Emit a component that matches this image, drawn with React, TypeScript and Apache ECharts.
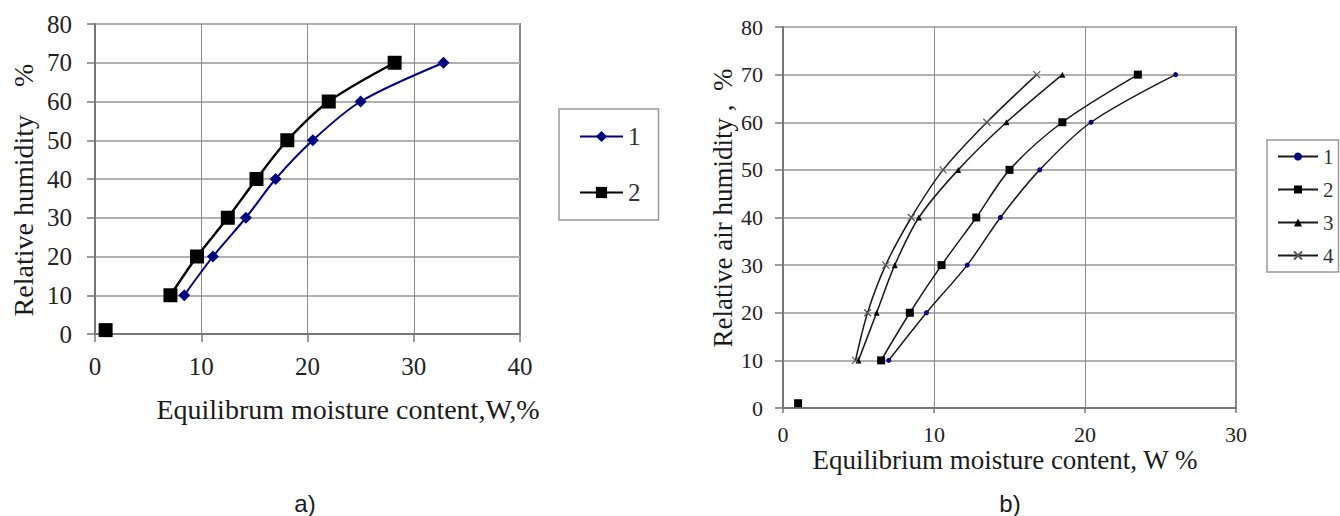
import React, { useEffect, useRef } from "react";
import * as echarts from "echarts";

// ---------- data ----------
const humidityLevels = [10, 20, 30, 40, 50, 60, 70];

// chart a)
const aSeries1X = [8.4, 11.1, 14.2, 17.0, 20.5, 25.0, 32.8];
const aSeries2X = [7.1, 9.6, 12.5, 15.2, 18.1, 22.0, 28.2];
const aIsolatedPoint = [[1, 1]];
const aXTicks = { min: 0, max: 40, interval: 10 };

// chart b)
const bSeries1X = [7.0, 9.5, 12.2, 14.4, 17.0, 20.4, 26.0];
const bSeries2X = [6.5, 8.4, 10.5, 12.8, 15.0, 18.5, 23.5];
const bSeries3X = [5.0, 6.2, 7.4, 9.0, 11.6, 14.8, 18.5];
const bSeries4X = [4.8, 5.6, 6.8, 8.5, 10.6, 13.5, 16.8];
const bIsolatedPoint = [[1, 1]];
const bXTicks = { min: 0, max: 30, interval: 10 };

const yTicks = { min: 0, max: 80, interval: 10 };

const serif = "Liberation Serif";
const sans = "Liberation Sans";

const pair = (xs: number[]) => xs.map((x, i) => [x, humidityLevels[i]]);

function axes(xr: any, fs: number, xMargin: number, yMargin: number, xTick: number) {
  return {
    xAxis: {
      type: "value",
      min: xr.min,
      max: xr.max,
      interval: xr.interval,
      axisLine: { show: true, onZero: false, lineStyle: { color: "#777", width: 2 } },
      axisTick: { show: true, length: xTick, lineStyle: { color: "#777", width: 1.5 } },
      axisLabel: { fontFamily: serif, fontSize: fs, color: "#222", margin: xMargin },
      splitLine: { show: true, lineStyle: { color: "#8a8a8a", width: 1 } },
    },
    yAxis: {
      type: "value",
      min: yTicks.min,
      max: yTicks.max,
      interval: yTicks.interval,
      axisLine: { show: true, onZero: false, lineStyle: { color: "#777", width: 2 } },
      axisTick: { show: true, length: 8, lineStyle: { color: "#777", width: 1.5 } },
      axisLabel: { fontFamily: serif, fontSize: fs, color: "#222", margin: yMargin },
      splitLine: { show: true, lineStyle: { color: "#b0b0b0", width: 2 } },
    },
  };
}

function textEl(x: number, y: number, text: string, size: number, family: string, rotate = false): any {
  return {
    type: "text",
    x,
    y,
    rotation: rotate ? Math.PI / 2 : 0,
    style: {
      text,
      fontFamily: family,
      fontSize: size,
      fill: "#1a1a1a",
      align: "center",
      verticalAlign: "middle",
    },
  };
}

function optionA(): any {
  return {
    animation: false,
    grid: { left: 95, top: 24, width: 425, height: 310, show: true, borderColor: "#888", borderWidth: 2 },
    ...axes(aXTicks, 25, 20, 23, 8),
    legend: {
      data: ["1", "2"],
      orient: "vertical",
      left: 559,
      top: 109,
      itemWidth: 43,
      itemHeight: 14,
      itemGap: 31,
      padding: [15, 18, 15, 20],
      borderColor: "#999",
      borderWidth: 1.5,
      textStyle: { fontFamily: serif, fontSize: 25, color: "#333" },
    },
    series: [
      {
        name: "1",
        type: "line",
        data: pair(aSeries1X),
        smooth: 0.3,
        symbol: "diamond",
        symbolSize: 12,
        itemStyle: { color: "#000080" },
        lineStyle: { color: "#000080", width: 2 },
      },
      {
        name: "2",
        type: "line",
        data: pair(aSeries2X),
        smooth: 0.3,
        symbol: "rect",
        symbolSize: 14,
        itemStyle: { color: "#000" },
        lineStyle: { color: "#000", width: 2.5 },
      },
      {
        name: "2 (isolated)",
        type: "scatter",
        data: aIsolatedPoint,
        symbol: "rect",
        symbolSize: 14,
        itemStyle: { color: "#000", opacity: 1 },
      },
    ],
    graphic: [
      textEl(23, 190, "Relative humidity\u00a0\u00a0\u00a0\u00a0%", 28, serif, true),
      textEl(348, 409, "Equilibrum moisture content,W,%", 28, serif),
      textEl(305, 503, "a)", 24, sans),
    ],
  };
}

function optionB(): any {
  const lineCol = "#1a1a1a";
  return {
    animation: false,
    grid: { left: 113, top: 27, width: 453, height: 381, show: true, borderColor: "#888", borderWidth: 2 },
    ...axes(bXTicks, 22, 15, 20, 5),
    legend: {
      data: ["1", "2", "3", "4"],
      orient: "vertical",
      left: 597,
      top: 140,
      itemWidth: 40,
      itemHeight: 10,
      itemGap: 12,
      padding: [6, 5, 6, 10],
      borderColor: "#999",
      borderWidth: 1.5,
      textStyle: { fontFamily: serif, fontSize: 21, color: "#333" },
    },
    series: [
      {
        name: "1",
        type: "line",
        data: pair(bSeries1X),
        smooth: 0.3,
        symbol: "circle",
        symbolSize: 5,
        itemStyle: { color: "#000080" },
        lineStyle: { color: lineCol, width: 1.5 },
      },
      {
        name: "2",
        type: "line",
        data: pair(bSeries2X),
        smooth: 0.3,
        symbol: "rect",
        symbolSize: 8,
        itemStyle: { color: "#000" },
        lineStyle: { color: lineCol, width: 1.5 },
      },
      {
        name: "3",
        type: "line",
        data: pair(bSeries3X),
        smooth: 0.3,
        symbol: "triangle",
        symbolSize: 6,
        itemStyle: { color: "#000" },
        lineStyle: { color: lineCol, width: 1.5 },
      },
      {
        name: "4",
        type: "line",
        data: pair(bSeries4X),
        smooth: 0.3,
        symbol: "path://M0,0L10,10M10,0L0,10",
        symbolSize: 7,
        itemStyle: { color: "transparent", borderColor: "#555", borderWidth: 1.2 },
        lineStyle: { color: lineCol, width: 1.5 },
      },
      {
        name: "2 (isolated)",
        type: "scatter",
        data: bIsolatedPoint,
        symbol: "rect",
        symbolSize: 8,
        itemStyle: { color: "#000", opacity: 1 },
      },
    ],
    graphic: [
      textEl(53, 208, "Relative air humidity ,\u00a0\u00a0%", 27, serif, true),
      textEl(335, 460, "Equilibrium moisture content, W %", 27, serif),
      textEl(340, 503, "b)", 24, sans),
    ],
  };
}

function ChartBox({ option, left }: { option: any; left: number }) {
  const ref = useRef<HTMLDivElement>(null);
  useEffect(() => {
    if (!ref.current) return;
    const chart = echarts.init(ref.current, undefined, { renderer: "svg" });
    chart.setOption(option);
    return () => chart.dispose();
  }, []);
  return <div ref={ref} style={{ position: "absolute", left, top: 0, width: 670, height: 516 }} />;
}

export default function App() {
  return (
    <div style={{ position: "fixed", left: 0, top: 0, width: 1340, height: 516, background: "#fff" }}>
      <ChartBox option={optionA()} left={0} />
      <ChartBox option={optionB()} left={670} />
    </div>
  );
}
